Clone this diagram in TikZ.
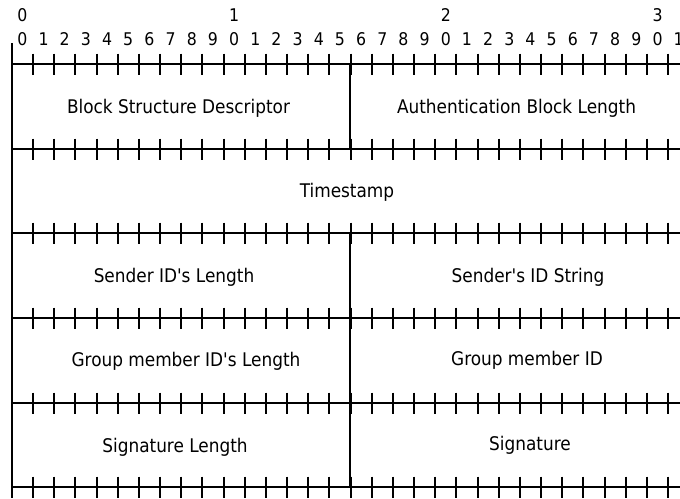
\documentclass[tikz,border=0pt]{standalone}
\usepackage{fontspec}
\setmainfont{DejaVu Sans Condensed}
\usetikzlibrary{positioning,calc}
\tikzset{grid line/.style={line width=2pt},
  field/.style={font=\fontsize{18.8}{21}\selectfont,inner sep=0pt,anchor=base},
  bit num/.style={font=\fontsize{17.5}{20}\selectfont,inner sep=0pt} }

\begin{document}
\begin{tikzpicture}[x=1pt,y=-1pt]
\useasboundingbox (0,0) rectangle (680,498);
\clip (0,0) rectangle (680,498);

  % bit numbers
  \foreach \t/\i in {0/0,1/10,2/20,3/30}
    \node[bit num] (ten\t) at ({22.4+21.17*\i},15) {\t};
  \foreach \i in {0,...,31}{
    \pgfmathtruncatemacro{\d}{mod(\i,10)}
    \node[bit num] (bit\i) at ({22.4+21.17*\i},39) {\d};
  }

  % row lines with ticks
  \coordinate (top) at (12,43);
  \coordinate (bottom) at (12,498);
  \draw[grid line] (top) -- (bottom);
  \foreach \r in {0,...,5}{
    \pgfmathtruncatemacro{\y}{round(64+84.7*\r)}
    \coordinate (row\r) at (12,\y);
    \draw[grid line] (row\r) -- ++(680,0);
    \foreach \k in {1,...,32}{
      \pgfmathtruncatemacro{\x}{round(11.83+21.17*\k)}
      \draw[grid line] (\x,\y-10.5) -- ++(0,21);
    }
  }

  % field dividers
  \foreach \a/\b in {0/1,2/3,3/4,4/5}
    \draw[grid line] ($(row\a)+(338,0)$) -- ($(row\b)+(338,0)$);

  % fields
  \node[field] (bsd) at (178.5,113) {Block Structure Descriptor};
  \node[field] (abl) at (516.5,113) {Authentication Block Length};
  \node[field] (ts) at (347,197.5) {Timestamp};
  \node[field] (sidlen) at (174,282.5) {Sender ID\textquotesingle s Length};
  \node[field] (sid) at (528,282.5) {Sender\textquotesingle s ID String};
  \node[field] (gidlen) at (186,366.5) {Group member ID\textquotesingle s Length};
  \node[field] (gid) at (527,365.5) {Group member ID};
  \node[field] (siglen) at (175,452) {Signature Length};
  \node[field] (sig) at (530,450) {Signature};
\end{tikzpicture}
\end{document}
